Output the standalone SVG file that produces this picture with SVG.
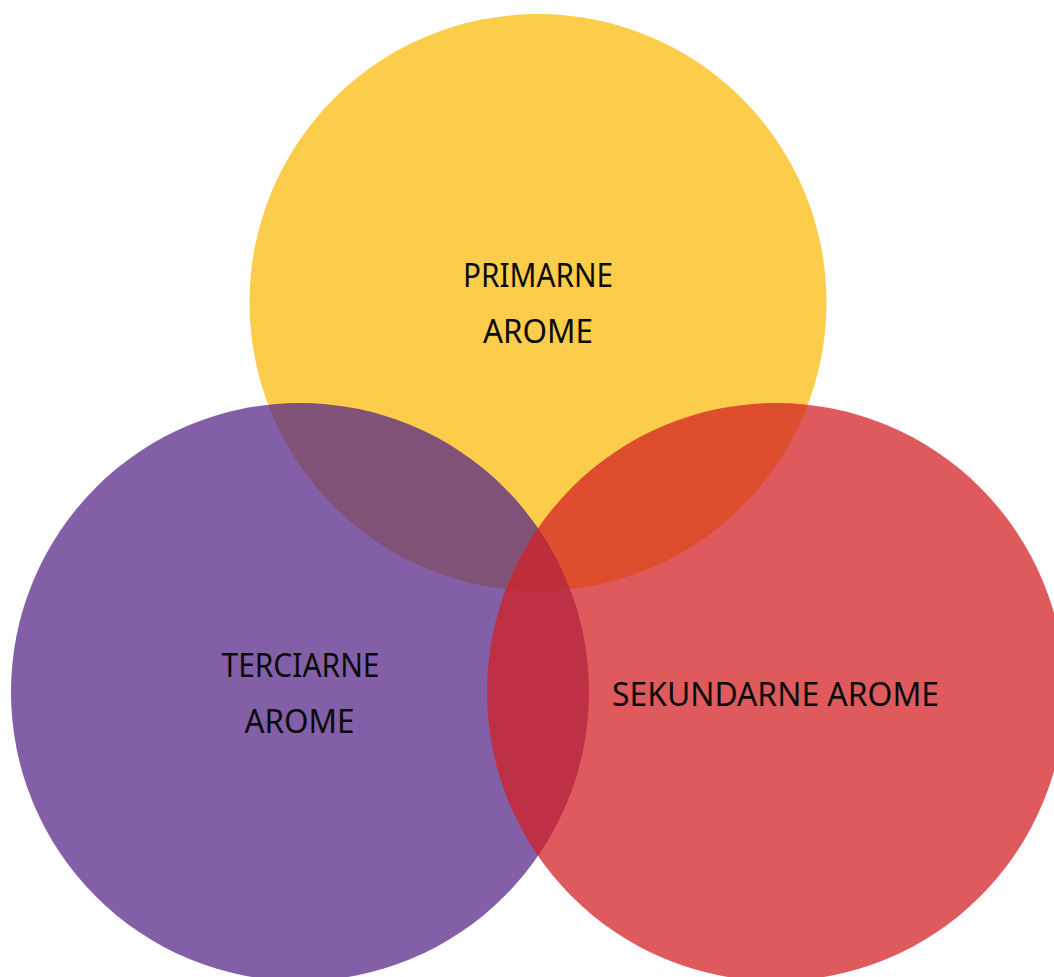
<svg xmlns="http://www.w3.org/2000/svg" width="1054" height="977" viewBox="0 0 1054 977">
<style>
.lbl{font-family:"Noto Sans","Liberation Sans",sans-serif;font-size:33px;fill:#0a0a0a;text-anchor:middle;}
</style>
<rect width="1054" height="977" fill="#ffffff"/>
<g id="primarne">
<circle cx="538" cy="302.5" r="288.5" fill="#FCCC4B"/>
<text class="lbl" x="538" y="287" textLength="150" lengthAdjust="spacingAndGlyphs">PRIMARNE</text>
<text class="lbl" x="538" y="343" textLength="110" lengthAdjust="spacingAndGlyphs">AROME</text>
</g>
<g id="terciarne">
<circle cx="300" cy="692" r="289" fill="#562787" fill-opacity="0.74"/>
<text class="lbl" x="300.5" y="677" textLength="158" lengthAdjust="spacingAndGlyphs">TERCIARNE</text>
<text class="lbl" x="299.5" y="733" textLength="110" lengthAdjust="spacingAndGlyphs">AROME</text>
</g>
<g id="sekundarne">
<circle cx="776" cy="692" r="289" fill="#D22125" fill-opacity="0.74"/>
<text class="lbl" x="775.5" y="706" textLength="327" lengthAdjust="spacingAndGlyphs">SEKUNDARNE AROME</text>
</g>
<g id="connectors"></g>
</svg>
